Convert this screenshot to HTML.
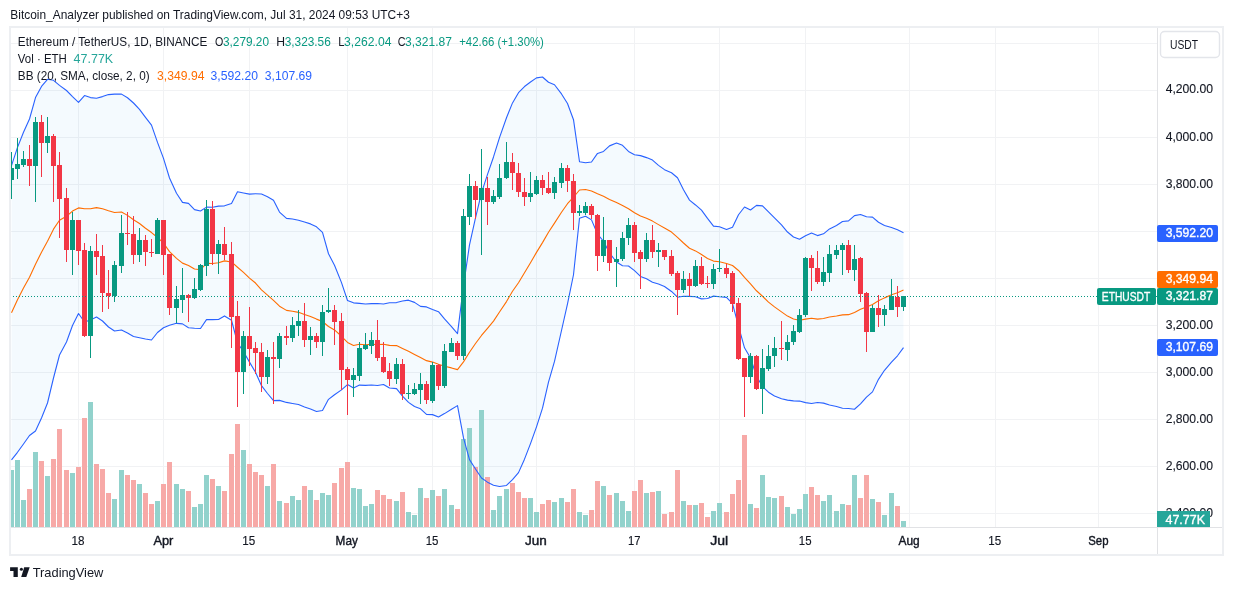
<!DOCTYPE html>
<html><head><meta charset="utf-8"><style>
html,body{margin:0;padding:0;background:#fff;width:1233px;height:590px;overflow:hidden}
body{position:relative;font-family:'Liberation Sans',sans-serif}
</style></head><body>
<svg width="1233" height="590" style="position:absolute;left:0;top:0">
<defs><clipPath id="pane"><rect x="11" y="28" width="1146" height="499"/></clipPath></defs>
<g shape-rendering="crispEdges"><rect x="11" y="43" width="1146" height="1" fill="#f1f2f4"/><rect x="11" y="90" width="1146" height="1" fill="#f1f2f4"/><rect x="11" y="137" width="1146" height="1" fill="#f1f2f4"/><rect x="11" y="184" width="1146" height="1" fill="#f1f2f4"/><rect x="11" y="231" width="1146" height="1" fill="#f1f2f4"/><rect x="11" y="278" width="1146" height="1" fill="#f1f2f4"/><rect x="11" y="325" width="1146" height="1" fill="#f1f2f4"/><rect x="11" y="372" width="1146" height="1" fill="#f1f2f4"/><rect x="11" y="419" width="1146" height="1" fill="#f1f2f4"/><rect x="11" y="466" width="1146" height="1" fill="#f1f2f4"/><rect x="11" y="513" width="1146" height="1" fill="#f1f2f4"/><rect x="78" y="28" width="1" height="499" fill="#f1f2f4"/><rect x="163" y="28" width="1" height="499" fill="#f1f2f4"/><rect x="249" y="28" width="1" height="499" fill="#f1f2f4"/><rect x="347" y="28" width="1" height="499" fill="#f1f2f4"/><rect x="432" y="28" width="1" height="499" fill="#f1f2f4"/><rect x="536" y="28" width="1" height="499" fill="#f1f2f4"/><rect x="634" y="28" width="1" height="499" fill="#f1f2f4"/><rect x="719" y="28" width="1" height="499" fill="#f1f2f4"/><rect x="805" y="28" width="1" height="499" fill="#f1f2f4"/><rect x="909" y="28" width="1" height="499" fill="#f1f2f4"/><rect x="995" y="28" width="1" height="499" fill="#f1f2f4"/><rect x="1098" y="28" width="1" height="499" fill="#f1f2f4"/></g>
<g clip-path="url(#pane)">
<polygon points="11.50,165.70 17.50,147.40 23.50,132.20 29.50,119.00 35.50,97.60 41.50,86.40 47.50,79.30 53.50,80.30 59.50,85.40 66.50,90.50 72.50,96.60 78.50,102.30 84.50,95.60 90.50,97.60 96.50,98.20 102.50,96.60 108.50,94.60 114.50,94.10 121.50,94.10 127.50,97.72 133.50,103.00 139.50,109.38 145.50,117.40 151.50,125.12 157.50,142.38 163.50,158.34 169.50,177.98 176.50,193.29 182.50,202.39 188.50,203.36 194.50,209.66 200.50,210.93 206.50,207.09 212.50,207.30 218.50,206.09 224.50,205.85 231.50,203.60 237.50,191.74 243.50,192.98 249.50,194.09 255.50,193.73 261.50,194.05 267.50,196.68 273.50,200.19 279.50,212.10 286.50,218.39 292.50,219.04 298.50,220.20 304.50,222.08 310.50,223.90 316.50,226.80 322.50,232.45 328.50,253.74 334.50,265.19 341.50,282.63 347.50,300.45 353.50,302.83 359.50,303.37 365.50,304.03 371.50,303.58 377.50,303.56 383.50,304.05 389.50,302.71 396.50,302.58 402.50,300.97 408.50,300.17 414.50,302.37 420.50,306.39 426.50,306.91 432.50,309.57 438.50,311.70 444.50,318.89 451.50,326.61 457.50,333.60 463.50,285.89 469.50,244.85 475.50,217.96 481.50,192.89 487.50,174.40 493.50,156.95 499.50,137.58 506.50,117.70 512.50,102.91 518.50,92.73 524.50,86.51 530.50,82.02 536.50,77.91 542.50,77.04 548.50,82.25 554.50,84.72 561.50,93.93 567.50,103.46 573.50,119.70 579.50,161.73 585.50,162.79 591.50,162.04 597.50,153.43 603.50,151.40 609.50,145.88 616.50,143.08 622.50,145.32 628.50,151.44 634.50,154.79 640.50,155.61 646.50,157.61 652.50,160.04 658.50,165.35 664.50,169.63 671.50,172.74 677.50,177.72 683.50,189.82 689.50,200.12 695.50,204.96 701.50,210.19 707.50,218.39 713.50,226.09 719.50,226.68 726.50,229.49 732.50,227.26 738.50,214.77 744.50,207.01 750.50,209.98 756.50,205.33 762.50,205.88 768.50,211.94 774.50,217.77 781.50,224.84 787.50,232.04 793.50,236.96 799.50,239.31 805.50,235.67 811.50,233.03 817.50,235.60 823.50,233.84 829.50,228.90 836.50,225.55 842.50,221.49 848.50,220.88 854.50,215.61 860.50,214.46 866.50,216.71 872.50,217.14 878.50,222.25 884.50,225.41 891.50,227.55 897.50,229.77 903.50,232.64 903.50,347.59 897.50,355.78 891.50,362.15 884.50,370.32 878.50,379.35 872.50,391.87 866.50,397.13 860.50,403.87 854.50,409.25 848.50,408.46 842.50,408.28 836.50,406.51 829.50,405.04 823.50,403.13 817.50,402.57 811.50,403.49 805.50,402.63 799.50,401.08 793.50,400.87 787.50,400.12 781.50,398.83 774.50,396.02 768.50,392.17 762.50,386.59 756.50,376.21 750.50,357.94 744.50,347.82 738.50,326.16 732.50,303.69 726.50,297.39 719.50,296.81 713.50,296.13 707.50,298.49 701.50,298.86 695.50,296.82 689.50,296.42 683.50,296.20 677.50,297.21 671.50,291.43 664.50,286.45 658.50,283.92 652.50,282.18 646.50,278.76 640.50,276.42 634.50,270.61 628.50,266.00 622.50,265.79 616.50,262.03 609.50,252.92 603.50,241.27 597.50,234.04 591.50,219.87 585.50,216.18 579.50,218.26 573.50,274.75 567.50,303.97 561.50,330.50 554.50,361.47 548.50,382.21 542.50,408.16 536.50,426.83 530.50,443.62 524.50,459.16 518.50,472.64 512.50,479.66 506.50,485.43 499.50,486.57 493.50,485.22 487.50,482.16 481.50,478.03 475.50,468.99 469.50,459.62 463.50,437.93 457.50,405.63 451.50,409.20 444.50,413.60 438.50,416.91 432.50,414.63 426.50,414.39 420.50,408.83 414.50,406.56 408.50,402.34 402.50,396.04 396.50,388.65 389.50,388.03 383.50,384.50 377.50,385.49 371.50,384.95 365.50,385.40 359.50,385.11 353.50,388.01 347.50,384.54 341.50,389.89 334.50,394.71 328.50,399.34 322.50,410.49 316.50,411.43 310.50,409.09 304.50,407.08 298.50,404.48 292.50,403.47 286.50,402.41 279.50,400.35 273.50,400.65 267.50,393.52 261.50,385.69 255.50,372.31 249.50,362.15 243.50,351.81 237.50,342.79 231.50,320.24 224.50,315.92 218.50,319.54 212.50,319.60 206.50,319.57 200.50,328.45 194.50,328.29 188.50,327.69 182.50,323.86 176.50,323.34 169.50,325.30 163.50,327.77 157.50,332.52 151.50,340.01 145.50,339.01 139.50,337.70 133.50,336.48 127.50,333.06 121.50,330.00 114.50,331.00 108.50,327.00 102.50,321.00 96.50,317.00 90.50,320.00 84.50,322.00 78.50,313.50 72.50,325.50 66.50,342.00 59.50,355.00 53.50,378.00 47.50,403.00 41.50,418.00 35.50,431.00 29.50,435.50 23.50,444.00 17.50,452.30 11.50,459.90" fill="#2196f3" fill-opacity="0.05"/>
<g shape-rendering="crispEdges"><rect x="9" y="470" width="5" height="57" fill="#92d2cc"/><rect x="15" y="460" width="5" height="67" fill="#92d2cc"/><rect x="21" y="500" width="5" height="27" fill="#92d2cc"/><rect x="27" y="489" width="5" height="38" fill="#f7a9a7"/><rect x="33" y="452" width="5" height="75" fill="#92d2cc"/><rect x="39" y="461" width="5" height="66" fill="#f7a9a7"/><rect x="45" y="476" width="5" height="51" fill="#92d2cc"/><rect x="51" y="459" width="5" height="68" fill="#f7a9a7"/><rect x="57" y="429" width="5" height="98" fill="#f7a9a7"/><rect x="64" y="470" width="5" height="57" fill="#f7a9a7"/><rect x="70" y="473" width="5" height="54" fill="#92d2cc"/><rect x="76" y="467" width="5" height="60" fill="#f7a9a7"/><rect x="82" y="418" width="5" height="109" fill="#f7a9a7"/><rect x="88" y="402" width="5" height="125" fill="#92d2cc"/><rect x="94" y="464" width="5" height="63" fill="#f7a9a7"/><rect x="100" y="469" width="5" height="58" fill="#f7a9a7"/><rect x="106" y="493" width="5" height="34" fill="#f7a9a7"/><rect x="112" y="499" width="5" height="28" fill="#92d2cc"/><rect x="119" y="470" width="5" height="57" fill="#92d2cc"/><rect x="125" y="475" width="5" height="52" fill="#f7a9a7"/><rect x="131" y="480" width="5" height="47" fill="#f7a9a7"/><rect x="137" y="484" width="5" height="43" fill="#92d2cc"/><rect x="143" y="493" width="5" height="34" fill="#f7a9a7"/><rect x="149" y="504" width="5" height="23" fill="#f7a9a7"/><rect x="155" y="501" width="5" height="26" fill="#92d2cc"/><rect x="161" y="484" width="5" height="43" fill="#f7a9a7"/><rect x="167" y="462" width="5" height="65" fill="#f7a9a7"/><rect x="174" y="484" width="5" height="43" fill="#92d2cc"/><rect x="180" y="489" width="5" height="38" fill="#92d2cc"/><rect x="186" y="491" width="5" height="36" fill="#f7a9a7"/><rect x="192" y="507" width="5" height="20" fill="#92d2cc"/><rect x="198" y="504" width="5" height="23" fill="#92d2cc"/><rect x="204" y="475" width="5" height="52" fill="#92d2cc"/><rect x="210" y="479" width="5" height="48" fill="#f7a9a7"/><rect x="216" y="486" width="5" height="41" fill="#92d2cc"/><rect x="222" y="491" width="5" height="36" fill="#f7a9a7"/><rect x="229" y="454" width="5" height="73" fill="#f7a9a7"/><rect x="235" y="424" width="5" height="103" fill="#f7a9a7"/><rect x="241" y="450" width="5" height="77" fill="#92d2cc"/><rect x="247" y="464" width="5" height="63" fill="#f7a9a7"/><rect x="253" y="472" width="5" height="55" fill="#f7a9a7"/><rect x="259" y="475" width="5" height="52" fill="#f7a9a7"/><rect x="265" y="486" width="5" height="41" fill="#92d2cc"/><rect x="271" y="464" width="5" height="63" fill="#f7a9a7"/><rect x="277" y="501" width="5" height="26" fill="#92d2cc"/><rect x="284" y="503" width="5" height="24" fill="#f7a9a7"/><rect x="290" y="496" width="5" height="31" fill="#92d2cc"/><rect x="296" y="500" width="5" height="27" fill="#92d2cc"/><rect x="302" y="486" width="5" height="41" fill="#f7a9a7"/><rect x="308" y="490" width="5" height="37" fill="#92d2cc"/><rect x="314" y="500" width="5" height="27" fill="#f7a9a7"/><rect x="320" y="493" width="5" height="34" fill="#92d2cc"/><rect x="326" y="495" width="5" height="32" fill="#92d2cc"/><rect x="332" y="483" width="5" height="44" fill="#f7a9a7"/><rect x="339" y="468" width="5" height="59" fill="#f7a9a7"/><rect x="345" y="462" width="5" height="65" fill="#f7a9a7"/><rect x="351" y="488" width="5" height="39" fill="#92d2cc"/><rect x="357" y="489" width="5" height="38" fill="#92d2cc"/><rect x="363" y="506" width="5" height="21" fill="#92d2cc"/><rect x="369" y="504" width="5" height="23" fill="#92d2cc"/><rect x="375" y="490" width="5" height="37" fill="#f7a9a7"/><rect x="381" y="495" width="5" height="32" fill="#f7a9a7"/><rect x="387" y="499" width="5" height="28" fill="#f7a9a7"/><rect x="394" y="501" width="5" height="26" fill="#92d2cc"/><rect x="400" y="492" width="5" height="35" fill="#f7a9a7"/><rect x="406" y="512" width="5" height="15" fill="#92d2cc"/><rect x="412" y="515" width="5" height="12" fill="#92d2cc"/><rect x="418" y="488" width="5" height="39" fill="#92d2cc"/><rect x="424" y="498" width="5" height="29" fill="#f7a9a7"/><rect x="430" y="490" width="5" height="37" fill="#92d2cc"/><rect x="436" y="496" width="5" height="31" fill="#f7a9a7"/><rect x="442" y="489" width="5" height="38" fill="#92d2cc"/><rect x="449" y="505" width="5" height="22" fill="#92d2cc"/><rect x="455" y="509" width="5" height="18" fill="#f7a9a7"/><rect x="461" y="439" width="5" height="88" fill="#92d2cc"/><rect x="467" y="428" width="5" height="99" fill="#92d2cc"/><rect x="473" y="467" width="5" height="60" fill="#f7a9a7"/><rect x="479" y="410" width="5" height="117" fill="#92d2cc"/><rect x="485" y="477" width="5" height="50" fill="#f7a9a7"/><rect x="491" y="510" width="5" height="17" fill="#92d2cc"/><rect x="497" y="496" width="5" height="31" fill="#92d2cc"/><rect x="504" y="489" width="5" height="38" fill="#92d2cc"/><rect x="510" y="483" width="5" height="44" fill="#f7a9a7"/><rect x="516" y="492" width="5" height="35" fill="#f7a9a7"/><rect x="522" y="498" width="5" height="29" fill="#f7a9a7"/><rect x="528" y="498" width="5" height="29" fill="#92d2cc"/><rect x="534" y="512" width="5" height="15" fill="#92d2cc"/><rect x="540" y="504" width="5" height="23" fill="#f7a9a7"/><rect x="546" y="500" width="5" height="27" fill="#f7a9a7"/><rect x="552" y="502" width="5" height="25" fill="#92d2cc"/><rect x="559" y="498" width="5" height="29" fill="#92d2cc"/><rect x="565" y="502" width="5" height="25" fill="#f7a9a7"/><rect x="571" y="489" width="5" height="38" fill="#f7a9a7"/><rect x="577" y="512" width="5" height="15" fill="#92d2cc"/><rect x="583" y="515" width="5" height="12" fill="#92d2cc"/><rect x="589" y="510" width="5" height="17" fill="#f7a9a7"/><rect x="595" y="481" width="5" height="46" fill="#f7a9a7"/><rect x="601" y="486" width="5" height="41" fill="#92d2cc"/><rect x="607" y="495" width="5" height="32" fill="#f7a9a7"/><rect x="614" y="493" width="5" height="34" fill="#92d2cc"/><rect x="620" y="501" width="5" height="26" fill="#92d2cc"/><rect x="626" y="511" width="5" height="16" fill="#92d2cc"/><rect x="632" y="491" width="5" height="36" fill="#f7a9a7"/><rect x="638" y="480" width="5" height="47" fill="#f7a9a7"/><rect x="644" y="493" width="5" height="34" fill="#92d2cc"/><rect x="650" y="492" width="5" height="35" fill="#f7a9a7"/><rect x="656" y="491" width="5" height="36" fill="#92d2cc"/><rect x="662" y="514" width="5" height="13" fill="#f7a9a7"/><rect x="669" y="512" width="5" height="15" fill="#f7a9a7"/><rect x="675" y="470" width="5" height="57" fill="#f7a9a7"/><rect x="681" y="501" width="5" height="26" fill="#92d2cc"/><rect x="687" y="505" width="5" height="22" fill="#f7a9a7"/><rect x="693" y="505" width="5" height="22" fill="#92d2cc"/><rect x="699" y="503" width="5" height="24" fill="#f7a9a7"/><rect x="705" y="517" width="5" height="10" fill="#f7a9a7"/><rect x="711" y="511" width="5" height="16" fill="#92d2cc"/><rect x="717" y="503" width="5" height="24" fill="#92d2cc"/><rect x="724" y="512" width="5" height="15" fill="#f7a9a7"/><rect x="730" y="494" width="5" height="33" fill="#f7a9a7"/><rect x="736" y="480" width="5" height="47" fill="#f7a9a7"/><rect x="742" y="435" width="5" height="92" fill="#f7a9a7"/><rect x="748" y="504" width="5" height="23" fill="#92d2cc"/><rect x="754" y="508" width="5" height="19" fill="#f7a9a7"/><rect x="760" y="475" width="5" height="52" fill="#92d2cc"/><rect x="766" y="497" width="5" height="30" fill="#92d2cc"/><rect x="772" y="498" width="5" height="29" fill="#92d2cc"/><rect x="779" y="496" width="5" height="31" fill="#f7a9a7"/><rect x="785" y="507" width="5" height="20" fill="#92d2cc"/><rect x="791" y="514" width="5" height="13" fill="#92d2cc"/><rect x="797" y="509" width="5" height="18" fill="#92d2cc"/><rect x="803" y="494" width="5" height="33" fill="#92d2cc"/><rect x="809" y="487" width="5" height="40" fill="#f7a9a7"/><rect x="815" y="495" width="5" height="32" fill="#f7a9a7"/><rect x="821" y="501" width="5" height="26" fill="#92d2cc"/><rect x="827" y="495" width="5" height="32" fill="#92d2cc"/><rect x="834" y="511" width="5" height="16" fill="#92d2cc"/><rect x="840" y="504" width="5" height="23" fill="#92d2cc"/><rect x="846" y="505" width="5" height="22" fill="#f7a9a7"/><rect x="852" y="475" width="5" height="52" fill="#92d2cc"/><rect x="858" y="498" width="5" height="29" fill="#f7a9a7"/><rect x="864" y="475" width="5" height="52" fill="#f7a9a7"/><rect x="870" y="499" width="5" height="28" fill="#92d2cc"/><rect x="876" y="502" width="5" height="25" fill="#f7a9a7"/><rect x="882" y="515" width="5" height="12" fill="#92d2cc"/><rect x="889" y="493" width="5" height="34" fill="#92d2cc"/><rect x="895" y="506" width="5" height="21" fill="#f7a9a7"/><rect x="901" y="521" width="5" height="6" fill="#92d2cc"/></g>
<polyline points="11.50,165.70 17.50,147.40 23.50,132.20 29.50,119.00 35.50,97.60 41.50,86.40 47.50,79.30 53.50,80.30 59.50,85.40 66.50,90.50 72.50,96.60 78.50,102.30 84.50,95.60 90.50,97.60 96.50,98.20 102.50,96.60 108.50,94.60 114.50,94.10 121.50,94.10 127.50,97.72 133.50,103.00 139.50,109.38 145.50,117.40 151.50,125.12 157.50,142.38 163.50,158.34 169.50,177.98 176.50,193.29 182.50,202.39 188.50,203.36 194.50,209.66 200.50,210.93 206.50,207.09 212.50,207.30 218.50,206.09 224.50,205.85 231.50,203.60 237.50,191.74 243.50,192.98 249.50,194.09 255.50,193.73 261.50,194.05 267.50,196.68 273.50,200.19 279.50,212.10 286.50,218.39 292.50,219.04 298.50,220.20 304.50,222.08 310.50,223.90 316.50,226.80 322.50,232.45 328.50,253.74 334.50,265.19 341.50,282.63 347.50,300.45 353.50,302.83 359.50,303.37 365.50,304.03 371.50,303.58 377.50,303.56 383.50,304.05 389.50,302.71 396.50,302.58 402.50,300.97 408.50,300.17 414.50,302.37 420.50,306.39 426.50,306.91 432.50,309.57 438.50,311.70 444.50,318.89 451.50,326.61 457.50,333.60 463.50,285.89 469.50,244.85 475.50,217.96 481.50,192.89 487.50,174.40 493.50,156.95 499.50,137.58 506.50,117.70 512.50,102.91 518.50,92.73 524.50,86.51 530.50,82.02 536.50,77.91 542.50,77.04 548.50,82.25 554.50,84.72 561.50,93.93 567.50,103.46 573.50,119.70 579.50,161.73 585.50,162.79 591.50,162.04 597.50,153.43 603.50,151.40 609.50,145.88 616.50,143.08 622.50,145.32 628.50,151.44 634.50,154.79 640.50,155.61 646.50,157.61 652.50,160.04 658.50,165.35 664.50,169.63 671.50,172.74 677.50,177.72 683.50,189.82 689.50,200.12 695.50,204.96 701.50,210.19 707.50,218.39 713.50,226.09 719.50,226.68 726.50,229.49 732.50,227.26 738.50,214.77 744.50,207.01 750.50,209.98 756.50,205.33 762.50,205.88 768.50,211.94 774.50,217.77 781.50,224.84 787.50,232.04 793.50,236.96 799.50,239.31 805.50,235.67 811.50,233.03 817.50,235.60 823.50,233.84 829.50,228.90 836.50,225.55 842.50,221.49 848.50,220.88 854.50,215.61 860.50,214.46 866.50,216.71 872.50,217.14 878.50,222.25 884.50,225.41 891.50,227.55 897.50,229.77 903.50,232.64" fill="none" stroke="#2962FF" stroke-width="1.1" stroke-linejoin="round"/><polyline points="11.50,459.90 17.50,452.30 23.50,444.00 29.50,435.50 35.50,431.00 41.50,418.00 47.50,403.00 53.50,378.00 59.50,355.00 66.50,342.00 72.50,325.50 78.50,313.50 84.50,322.00 90.50,320.00 96.50,317.00 102.50,321.00 108.50,327.00 114.50,331.00 121.50,330.00 127.50,333.06 133.50,336.48 139.50,337.70 145.50,339.01 151.50,340.01 157.50,332.52 163.50,327.77 169.50,325.30 176.50,323.34 182.50,323.86 188.50,327.69 194.50,328.29 200.50,328.45 206.50,319.57 212.50,319.60 218.50,319.54 224.50,315.92 231.50,320.24 237.50,342.79 243.50,351.81 249.50,362.15 255.50,372.31 261.50,385.69 267.50,393.52 273.50,400.65 279.50,400.35 286.50,402.41 292.50,403.47 298.50,404.48 304.50,407.08 310.50,409.09 316.50,411.43 322.50,410.49 328.50,399.34 334.50,394.71 341.50,389.89 347.50,384.54 353.50,388.01 359.50,385.11 365.50,385.40 371.50,384.95 377.50,385.49 383.50,384.50 389.50,388.03 396.50,388.65 402.50,396.04 408.50,402.34 414.50,406.56 420.50,408.83 426.50,414.39 432.50,414.63 438.50,416.91 444.50,413.60 451.50,409.20 457.50,405.63 463.50,437.93 469.50,459.62 475.50,468.99 481.50,478.03 487.50,482.16 493.50,485.22 499.50,486.57 506.50,485.43 512.50,479.66 518.50,472.64 524.50,459.16 530.50,443.62 536.50,426.83 542.50,408.16 548.50,382.21 554.50,361.47 561.50,330.50 567.50,303.97 573.50,274.75 579.50,218.26 585.50,216.18 591.50,219.87 597.50,234.04 603.50,241.27 609.50,252.92 616.50,262.03 622.50,265.79 628.50,266.00 634.50,270.61 640.50,276.42 646.50,278.76 652.50,282.18 658.50,283.92 664.50,286.45 671.50,291.43 677.50,297.21 683.50,296.20 689.50,296.42 695.50,296.82 701.50,298.86 707.50,298.49 713.50,296.13 719.50,296.81 726.50,297.39 732.50,303.69 738.50,326.16 744.50,347.82 750.50,357.94 756.50,376.21 762.50,386.59 768.50,392.17 774.50,396.02 781.50,398.83 787.50,400.12 793.50,400.87 799.50,401.08 805.50,402.63 811.50,403.49 817.50,402.57 823.50,403.13 829.50,405.04 836.50,406.51 842.50,408.28 848.50,408.46 854.50,409.25 860.50,403.87 866.50,397.13 872.50,391.87 878.50,379.35 884.50,370.32 891.50,362.15 897.50,355.78 903.50,347.59" fill="none" stroke="#2962FF" stroke-width="1.1" stroke-linejoin="round"/><polyline points="11.50,312.80 17.50,299.85 23.50,288.10 29.50,277.25 35.50,264.30 41.50,252.20 47.50,241.15 53.50,229.15 59.50,220.20 66.50,216.25 72.50,211.05 78.50,207.90 84.50,208.80 90.50,208.80 96.50,207.60 102.50,208.80 108.50,210.80 114.50,212.55 121.50,212.05 127.50,215.39 133.50,219.74 139.50,223.54 145.50,228.20 151.50,232.56 157.50,237.45 163.50,243.06 169.50,251.64 176.50,258.32 182.50,263.13 188.50,265.53 194.50,268.98 200.50,269.69 206.50,263.33 212.50,263.45 218.50,262.82 224.50,260.88 231.50,261.92 237.50,267.26 243.50,272.40 249.50,278.12 255.50,283.02 261.50,289.87 267.50,295.10 273.50,300.42 279.50,306.22 286.50,310.40 292.50,311.25 298.50,312.34 304.50,314.58 310.50,316.50 316.50,319.12 322.50,321.47 328.50,326.54 334.50,329.95 341.50,336.26 347.50,342.49 353.50,345.42 359.50,344.24 365.50,344.72 371.50,344.27 377.50,344.53 383.50,344.27 389.50,345.37 396.50,345.62 402.50,348.51 408.50,351.25 414.50,354.46 420.50,357.61 426.50,360.65 432.50,362.10 438.50,364.31 444.50,366.25 451.50,367.91 457.50,369.61 463.50,361.91 469.50,352.23 475.50,343.48 481.50,335.46 487.50,328.28 493.50,321.08 499.50,312.07 506.50,301.57 512.50,291.28 518.50,282.69 524.50,272.83 530.50,262.82 536.50,252.37 542.50,242.60 548.50,232.23 554.50,223.10 561.50,212.21 567.50,203.72 573.50,197.23 579.50,190.00 585.50,189.49 591.50,190.96 597.50,193.73 603.50,196.33 609.50,199.40 616.50,202.55 622.50,205.55 628.50,208.72 634.50,212.70 640.50,216.01 646.50,218.18 652.50,221.11 658.50,224.63 664.50,228.04 671.50,232.08 677.50,237.46 683.50,243.01 689.50,248.27 695.50,250.89 701.50,254.53 707.50,258.44 713.50,261.11 719.50,261.74 726.50,263.44 732.50,265.47 738.50,270.47 744.50,277.41 750.50,283.96 756.50,290.77 762.50,296.24 768.50,302.06 774.50,306.89 781.50,311.84 787.50,316.08 793.50,318.92 799.50,320.20 805.50,319.15 811.50,318.26 817.50,319.09 823.50,318.49 829.50,316.97 836.50,316.03 842.50,314.88 848.50,314.67 854.50,312.43 860.50,309.17 866.50,306.92 872.50,304.51 878.50,300.80 884.50,297.87 891.50,294.85 897.50,292.78 903.50,290.11" fill="none" stroke="#FF6D00" stroke-width="1.1" stroke-linejoin="round"/>
<g shape-rendering="crispEdges"><rect x="11" y="152" width="1" height="47" fill="#089981"/><rect x="9" y="168" width="5" height="12" fill="#089981"/><rect x="17" y="138" width="1" height="41" fill="#089981"/><rect x="15" y="164" width="5" height="5" fill="#089981"/><rect x="23" y="151" width="1" height="16" fill="#089981"/><rect x="21" y="159" width="5" height="6" fill="#089981"/><rect x="29" y="145" width="1" height="41" fill="#F23645"/><rect x="27" y="159" width="5" height="7" fill="#F23645"/><rect x="35" y="117" width="1" height="85" fill="#089981"/><rect x="33" y="122" width="5" height="44" fill="#089981"/><rect x="41" y="115" width="1" height="62" fill="#F23645"/><rect x="39" y="122" width="5" height="21" fill="#F23645"/><rect x="47" y="117" width="1" height="36" fill="#089981"/><rect x="45" y="136" width="5" height="7" fill="#089981"/><rect x="53" y="134" width="1" height="68" fill="#F23645"/><rect x="51" y="136" width="5" height="30" fill="#F23645"/><rect x="59" y="152" width="1" height="86" fill="#F23645"/><rect x="57" y="165" width="5" height="34" fill="#F23645"/><rect x="66" y="188" width="1" height="74" fill="#F23645"/><rect x="64" y="198" width="5" height="52" fill="#F23645"/><rect x="72" y="212" width="1" height="63" fill="#089981"/><rect x="70" y="220" width="5" height="30" fill="#089981"/><rect x="78" y="220" width="1" height="45" fill="#F23645"/><rect x="76" y="220" width="5" height="31" fill="#F23645"/><rect x="84" y="243" width="1" height="94" fill="#F23645"/><rect x="82" y="250" width="5" height="86" fill="#F23645"/><rect x="90" y="246" width="1" height="112" fill="#089981"/><rect x="88" y="251" width="5" height="85" fill="#089981"/><rect x="96" y="234" width="1" height="41" fill="#F23645"/><rect x="94" y="251" width="5" height="6" fill="#F23645"/><rect x="102" y="245" width="1" height="67" fill="#F23645"/><rect x="100" y="256" width="5" height="37" fill="#F23645"/><rect x="108" y="270" width="1" height="39" fill="#F23645"/><rect x="106" y="293" width="5" height="3" fill="#F23645"/><rect x="114" y="261" width="1" height="41" fill="#089981"/><rect x="112" y="265" width="5" height="31" fill="#089981"/><rect x="121" y="215" width="1" height="58" fill="#089981"/><rect x="119" y="233" width="5" height="33" fill="#089981"/><rect x="127" y="212" width="1" height="33" fill="#F23645"/><rect x="125" y="233" width="5" height="1" fill="#F23645"/><rect x="133" y="216" width="1" height="48" fill="#F23645"/><rect x="131" y="234" width="5" height="21" fill="#F23645"/><rect x="139" y="228" width="1" height="34" fill="#089981"/><rect x="137" y="240" width="5" height="15" fill="#089981"/><rect x="145" y="235" width="1" height="31" fill="#F23645"/><rect x="143" y="240" width="5" height="12" fill="#F23645"/><rect x="151" y="239" width="1" height="18" fill="#F23645"/><rect x="149" y="252" width="5" height="1" fill="#F23645"/><rect x="157" y="218" width="1" height="36" fill="#089981"/><rect x="155" y="220" width="5" height="34" fill="#089981"/><rect x="163" y="220" width="1" height="55" fill="#F23645"/><rect x="161" y="220" width="5" height="35" fill="#F23645"/><rect x="169" y="254" width="1" height="61" fill="#F23645"/><rect x="167" y="254" width="5" height="54" fill="#F23645"/><rect x="176" y="286" width="1" height="37" fill="#089981"/><rect x="174" y="299" width="5" height="9" fill="#089981"/><rect x="182" y="268" width="1" height="45" fill="#089981"/><rect x="180" y="295" width="5" height="5" fill="#089981"/><rect x="188" y="294" width="1" height="28" fill="#F23645"/><rect x="186" y="295" width="5" height="3" fill="#F23645"/><rect x="194" y="278" width="1" height="21" fill="#089981"/><rect x="192" y="289" width="5" height="9" fill="#089981"/><rect x="200" y="264" width="1" height="27" fill="#089981"/><rect x="198" y="265" width="5" height="25" fill="#089981"/><rect x="206" y="200" width="1" height="76" fill="#089981"/><rect x="204" y="209" width="5" height="57" fill="#089981"/><rect x="212" y="201" width="1" height="64" fill="#F23645"/><rect x="210" y="209" width="5" height="45" fill="#F23645"/><rect x="218" y="240" width="1" height="34" fill="#089981"/><rect x="216" y="244" width="5" height="10" fill="#089981"/><rect x="224" y="227" width="1" height="33" fill="#F23645"/><rect x="222" y="244" width="5" height="11" fill="#F23645"/><rect x="231" y="242" width="1" height="106" fill="#F23645"/><rect x="229" y="254" width="5" height="63" fill="#F23645"/><rect x="237" y="301" width="1" height="106" fill="#F23645"/><rect x="235" y="316" width="5" height="56" fill="#F23645"/><rect x="243" y="331" width="1" height="63" fill="#089981"/><rect x="241" y="336" width="5" height="36" fill="#089981"/><rect x="249" y="307" width="1" height="59" fill="#F23645"/><rect x="247" y="336" width="5" height="13" fill="#F23645"/><rect x="255" y="342" width="1" height="32" fill="#F23645"/><rect x="253" y="348" width="5" height="5" fill="#F23645"/><rect x="261" y="343" width="1" height="49" fill="#F23645"/><rect x="259" y="352" width="5" height="25" fill="#F23645"/><rect x="267" y="350" width="1" height="34" fill="#089981"/><rect x="265" y="357" width="5" height="20" fill="#089981"/><rect x="273" y="342" width="1" height="62" fill="#F23645"/><rect x="271" y="357" width="5" height="2" fill="#F23645"/><rect x="279" y="333" width="1" height="35" fill="#089981"/><rect x="277" y="336" width="5" height="23" fill="#089981"/><rect x="286" y="326" width="1" height="19" fill="#F23645"/><rect x="284" y="336" width="5" height="2" fill="#F23645"/><rect x="292" y="317" width="1" height="25" fill="#089981"/><rect x="290" y="325" width="5" height="13" fill="#089981"/><rect x="298" y="310" width="1" height="26" fill="#089981"/><rect x="296" y="321" width="5" height="5" fill="#089981"/><rect x="304" y="303" width="1" height="44" fill="#F23645"/><rect x="302" y="321" width="5" height="19" fill="#F23645"/><rect x="310" y="327" width="1" height="28" fill="#089981"/><rect x="308" y="336" width="5" height="4" fill="#089981"/><rect x="316" y="333" width="1" height="15" fill="#F23645"/><rect x="314" y="336" width="5" height="6" fill="#F23645"/><rect x="322" y="305" width="1" height="51" fill="#089981"/><rect x="320" y="312" width="5" height="30" fill="#089981"/><rect x="328" y="288" width="1" height="25" fill="#089981"/><rect x="326" y="310" width="5" height="2" fill="#089981"/><rect x="334" y="305" width="1" height="40" fill="#F23645"/><rect x="332" y="310" width="5" height="12" fill="#F23645"/><rect x="341" y="313" width="1" height="77" fill="#F23645"/><rect x="339" y="321" width="5" height="49" fill="#F23645"/><rect x="347" y="367" width="1" height="48" fill="#F23645"/><rect x="345" y="369" width="5" height="11" fill="#F23645"/><rect x="353" y="368" width="1" height="29" fill="#089981"/><rect x="351" y="375" width="5" height="5" fill="#089981"/><rect x="359" y="342" width="1" height="39" fill="#089981"/><rect x="357" y="348" width="5" height="28" fill="#089981"/><rect x="365" y="333" width="1" height="17" fill="#089981"/><rect x="363" y="345" width="5" height="4" fill="#089981"/><rect x="371" y="332" width="1" height="22" fill="#089981"/><rect x="369" y="340" width="5" height="6" fill="#089981"/><rect x="377" y="320" width="1" height="41" fill="#F23645"/><rect x="375" y="340" width="5" height="18" fill="#F23645"/><rect x="383" y="342" width="1" height="31" fill="#F23645"/><rect x="381" y="357" width="5" height="15" fill="#F23645"/><rect x="389" y="363" width="1" height="23" fill="#F23645"/><rect x="387" y="371" width="5" height="8" fill="#F23645"/><rect x="396" y="358" width="1" height="26" fill="#089981"/><rect x="394" y="364" width="5" height="15" fill="#089981"/><rect x="402" y="359" width="1" height="41" fill="#F23645"/><rect x="400" y="364" width="5" height="30" fill="#F23645"/><rect x="408" y="385" width="1" height="14" fill="#089981"/><rect x="406" y="393" width="5" height="1" fill="#089981"/><rect x="414" y="383" width="1" height="12" fill="#089981"/><rect x="412" y="389" width="5" height="5" fill="#089981"/><rect x="420" y="373" width="1" height="31" fill="#089981"/><rect x="418" y="384" width="5" height="6" fill="#089981"/><rect x="426" y="381" width="1" height="23" fill="#F23645"/><rect x="424" y="384" width="5" height="16" fill="#F23645"/><rect x="432" y="362" width="1" height="41" fill="#089981"/><rect x="430" y="365" width="5" height="36" fill="#089981"/><rect x="438" y="364" width="1" height="26" fill="#F23645"/><rect x="436" y="365" width="5" height="21" fill="#F23645"/><rect x="444" y="344" width="1" height="44" fill="#089981"/><rect x="442" y="351" width="5" height="35" fill="#089981"/><rect x="451" y="338" width="1" height="14" fill="#089981"/><rect x="449" y="343" width="5" height="9" fill="#089981"/><rect x="457" y="341" width="1" height="19" fill="#F23645"/><rect x="455" y="343" width="5" height="13" fill="#F23645"/><rect x="463" y="209" width="1" height="151" fill="#089981"/><rect x="461" y="216" width="5" height="140" fill="#089981"/><rect x="469" y="174" width="1" height="51" fill="#089981"/><rect x="467" y="186" width="5" height="31" fill="#089981"/><rect x="475" y="181" width="1" height="38" fill="#F23645"/><rect x="473" y="186" width="5" height="14" fill="#F23645"/><rect x="481" y="149" width="1" height="106" fill="#089981"/><rect x="479" y="188" width="5" height="12" fill="#089981"/><rect x="487" y="177" width="1" height="48" fill="#F23645"/><rect x="485" y="188" width="5" height="14" fill="#F23645"/><rect x="493" y="190" width="1" height="14" fill="#089981"/><rect x="491" y="196" width="5" height="6" fill="#089981"/><rect x="499" y="164" width="1" height="35" fill="#089981"/><rect x="497" y="178" width="5" height="19" fill="#089981"/><rect x="506" y="142" width="1" height="37" fill="#089981"/><rect x="504" y="162" width="5" height="16" fill="#089981"/><rect x="512" y="153" width="1" height="37" fill="#F23645"/><rect x="510" y="162" width="5" height="11" fill="#F23645"/><rect x="518" y="163" width="1" height="34" fill="#F23645"/><rect x="516" y="173" width="5" height="19" fill="#F23645"/><rect x="524" y="178" width="1" height="28" fill="#F23645"/><rect x="522" y="192" width="5" height="5" fill="#F23645"/><rect x="530" y="172" width="1" height="30" fill="#089981"/><rect x="528" y="193" width="5" height="4" fill="#089981"/><rect x="536" y="176" width="1" height="19" fill="#089981"/><rect x="534" y="180" width="5" height="14" fill="#089981"/><rect x="542" y="175" width="1" height="20" fill="#F23645"/><rect x="540" y="180" width="5" height="8" fill="#F23645"/><rect x="548" y="172" width="1" height="22" fill="#F23645"/><rect x="546" y="188" width="5" height="5" fill="#F23645"/><rect x="554" y="177" width="1" height="22" fill="#089981"/><rect x="552" y="182" width="5" height="11" fill="#089981"/><rect x="561" y="163" width="1" height="25" fill="#089981"/><rect x="559" y="168" width="5" height="15" fill="#089981"/><rect x="567" y="165" width="1" height="27" fill="#F23645"/><rect x="565" y="168" width="5" height="13" fill="#F23645"/><rect x="573" y="174" width="1" height="56" fill="#F23645"/><rect x="571" y="181" width="5" height="32" fill="#F23645"/><rect x="579" y="205" width="1" height="11" fill="#089981"/><rect x="577" y="211" width="5" height="2" fill="#089981"/><rect x="585" y="202" width="1" height="13" fill="#089981"/><rect x="583" y="206" width="5" height="7" fill="#089981"/><rect x="591" y="204" width="1" height="15" fill="#F23645"/><rect x="589" y="206" width="5" height="9" fill="#F23645"/><rect x="597" y="214" width="1" height="57" fill="#F23645"/><rect x="595" y="215" width="5" height="41" fill="#F23645"/><rect x="603" y="217" width="1" height="45" fill="#089981"/><rect x="601" y="240" width="5" height="16" fill="#089981"/><rect x="609" y="240" width="1" height="31" fill="#F23645"/><rect x="607" y="240" width="5" height="23" fill="#F23645"/><rect x="616" y="247" width="1" height="40" fill="#089981"/><rect x="614" y="259" width="5" height="3" fill="#089981"/><rect x="622" y="232" width="1" height="29" fill="#089981"/><rect x="620" y="238" width="5" height="21" fill="#089981"/><rect x="628" y="218" width="1" height="27" fill="#089981"/><rect x="626" y="225" width="5" height="13" fill="#089981"/><rect x="634" y="222" width="1" height="40" fill="#F23645"/><rect x="632" y="225" width="5" height="28" fill="#F23645"/><rect x="640" y="250" width="1" height="39" fill="#F23645"/><rect x="638" y="252" width="5" height="7" fill="#F23645"/><rect x="646" y="233" width="1" height="29" fill="#089981"/><rect x="644" y="240" width="5" height="19" fill="#089981"/><rect x="652" y="225" width="1" height="33" fill="#F23645"/><rect x="650" y="240" width="5" height="12" fill="#F23645"/><rect x="658" y="243" width="1" height="24" fill="#089981"/><rect x="656" y="250" width="5" height="2" fill="#089981"/><rect x="664" y="250" width="1" height="10" fill="#F23645"/><rect x="662" y="250" width="5" height="7" fill="#F23645"/><rect x="671" y="250" width="1" height="26" fill="#F23645"/><rect x="669" y="256" width="5" height="18" fill="#F23645"/><rect x="677" y="271" width="1" height="44" fill="#F23645"/><rect x="675" y="273" width="5" height="17" fill="#F23645"/><rect x="683" y="271" width="1" height="22" fill="#089981"/><rect x="681" y="279" width="5" height="11" fill="#089981"/><rect x="689" y="273" width="1" height="23" fill="#F23645"/><rect x="687" y="279" width="5" height="7" fill="#F23645"/><rect x="695" y="260" width="1" height="27" fill="#089981"/><rect x="693" y="266" width="5" height="20" fill="#089981"/><rect x="701" y="257" width="1" height="28" fill="#F23645"/><rect x="699" y="266" width="5" height="18" fill="#F23645"/><rect x="707" y="276" width="1" height="12" fill="#F23645"/><rect x="705" y="283" width="5" height="1" fill="#F23645"/><rect x="713" y="264" width="1" height="25" fill="#089981"/><rect x="711" y="269" width="5" height="15" fill="#089981"/><rect x="719" y="249" width="1" height="23" fill="#089981"/><rect x="717" y="268" width="5" height="1" fill="#089981"/><rect x="726" y="264" width="1" height="14" fill="#F23645"/><rect x="724" y="268" width="5" height="6" fill="#F23645"/><rect x="732" y="271" width="1" height="41" fill="#F23645"/><rect x="730" y="273" width="5" height="31" fill="#F23645"/><rect x="738" y="298" width="1" height="62" fill="#F23645"/><rect x="736" y="303" width="5" height="56" fill="#F23645"/><rect x="744" y="358" width="1" height="59" fill="#F23645"/><rect x="742" y="358" width="5" height="19" fill="#F23645"/><rect x="750" y="353" width="1" height="30" fill="#089981"/><rect x="748" y="356" width="5" height="21" fill="#089981"/><rect x="756" y="355" width="1" height="35" fill="#F23645"/><rect x="754" y="356" width="5" height="33" fill="#F23645"/><rect x="762" y="349" width="1" height="65" fill="#089981"/><rect x="760" y="368" width="5" height="21" fill="#089981"/><rect x="768" y="345" width="1" height="26" fill="#089981"/><rect x="766" y="356" width="5" height="13" fill="#089981"/><rect x="774" y="337" width="1" height="30" fill="#089981"/><rect x="772" y="348" width="5" height="8" fill="#089981"/><rect x="781" y="321" width="1" height="39" fill="#F23645"/><rect x="779" y="348" width="5" height="1" fill="#F23645"/><rect x="787" y="335" width="1" height="26" fill="#089981"/><rect x="785" y="342" width="5" height="8" fill="#089981"/><rect x="793" y="325" width="1" height="20" fill="#089981"/><rect x="791" y="331" width="5" height="11" fill="#089981"/><rect x="799" y="309" width="1" height="24" fill="#089981"/><rect x="797" y="315" width="5" height="17" fill="#089981"/><rect x="805" y="257" width="1" height="60" fill="#089981"/><rect x="803" y="258" width="5" height="57" fill="#089981"/><rect x="811" y="255" width="1" height="36" fill="#F23645"/><rect x="809" y="258" width="5" height="10" fill="#F23645"/><rect x="817" y="251" width="1" height="33" fill="#F23645"/><rect x="815" y="268" width="5" height="14" fill="#F23645"/><rect x="823" y="257" width="1" height="29" fill="#089981"/><rect x="821" y="272" width="5" height="10" fill="#089981"/><rect x="829" y="245" width="1" height="37" fill="#089981"/><rect x="827" y="254" width="5" height="19" fill="#089981"/><rect x="836" y="245" width="1" height="14" fill="#089981"/><rect x="834" y="250" width="5" height="5" fill="#089981"/><rect x="842" y="243" width="1" height="32" fill="#089981"/><rect x="840" y="245" width="5" height="5" fill="#089981"/><rect x="848" y="240" width="1" height="33" fill="#F23645"/><rect x="846" y="245" width="5" height="25" fill="#F23645"/><rect x="854" y="245" width="1" height="36" fill="#089981"/><rect x="852" y="259" width="5" height="11" fill="#089981"/><rect x="860" y="257" width="1" height="45" fill="#F23645"/><rect x="858" y="258" width="5" height="36" fill="#F23645"/><rect x="866" y="292" width="1" height="60" fill="#F23645"/><rect x="864" y="293" width="5" height="39" fill="#F23645"/><rect x="872" y="305" width="1" height="27" fill="#089981"/><rect x="870" y="308" width="5" height="24" fill="#089981"/><rect x="878" y="295" width="1" height="32" fill="#F23645"/><rect x="876" y="308" width="5" height="7" fill="#F23645"/><rect x="884" y="305" width="1" height="21" fill="#089981"/><rect x="882" y="309" width="5" height="6" fill="#089981"/><rect x="891" y="279" width="1" height="31" fill="#089981"/><rect x="889" y="296" width="5" height="14" fill="#089981"/><rect x="897" y="286" width="1" height="31" fill="#F23645"/><rect x="895" y="297" width="5" height="10" fill="#F23645"/><rect x="903" y="296" width="1" height="15" fill="#089981"/><rect x="901" y="296" width="5" height="11" fill="#089981"/></g>
<line x1="10" y1="296.5" x2="1157" y2="296.5" stroke="#089981" stroke-width="1" stroke-dasharray="1 2"/>
</g>
<g shape-rendering="crispEdges">
<rect x="9" y="26" width="1215" height="2" fill="#edeff2"/>
<rect x="9" y="554" width="1215" height="2" fill="#edeff2"/>
<rect x="9" y="26" width="2" height="530" fill="#edeff2"/>
<rect x="1222" y="26" width="2" height="530" fill="#edeff2"/>
<rect x="1157" y="28" width="1" height="526" fill="#e1e2e5"/>
<rect x="11" y="527" width="1211" height="1" fill="#e1e2e5"/>
</g>
</svg>
<svg width="1233" height="590" style="position:absolute;left:0;top:0;font-family:'Liberation Sans',sans-serif;will-change:transform"><text x="10.30" y="19" font-size="12.4" fill="#131722" font-weight="normal" textLength="399.50" lengthAdjust="spacingAndGlyphs" >Bitcoin_Analyzer published on TradingView.com, Jul 31, 2024 09:53 UTC+3</text><text x="17.80" y="46" font-size="12.4" fill="#131722" font-weight="normal" textLength="189.60" lengthAdjust="spacingAndGlyphs" >Ethereum / TetherUS, 1D, BINANCE</text><text x="214.90" y="46" font-size="12.4" fill="#131722" font-weight="normal" textLength="8.30" lengthAdjust="spacingAndGlyphs" >O</text><text x="223.00" y="46" font-size="12.4" fill="#089981" font-weight="normal" textLength="46.00" lengthAdjust="spacingAndGlyphs" >3,279.20</text><text x="276.20" y="46" font-size="12.4" fill="#131722" font-weight="normal" textLength="8.80" lengthAdjust="spacingAndGlyphs" >H</text><text x="284.70" y="46" font-size="12.4" fill="#089981" font-weight="normal" textLength="46.10" lengthAdjust="spacingAndGlyphs" >3,323.56</text><text x="338.30" y="46" font-size="12.4" fill="#131722" font-weight="normal" textLength="6.30" lengthAdjust="spacingAndGlyphs" >L</text><text x="344.10" y="46" font-size="12.4" fill="#089981" font-weight="normal" textLength="47.30" lengthAdjust="spacingAndGlyphs" >3,262.04</text><text x="397.80" y="46" font-size="12.4" fill="#131722" font-weight="normal" textLength="7.80" lengthAdjust="spacingAndGlyphs" >C</text><text x="405.10" y="46" font-size="12.4" fill="#089981" font-weight="normal" textLength="46.80" lengthAdjust="spacingAndGlyphs" >3,321.87</text><text x="459.20" y="46" font-size="12.4" fill="#089981" font-weight="normal" textLength="84.70" lengthAdjust="spacingAndGlyphs" >+42.66 (+1.30%)</text><text x="17.80" y="63" font-size="12.4" fill="#131722" font-weight="normal" textLength="49.00" lengthAdjust="spacingAndGlyphs" >Vol · ETH</text><text x="73.60" y="63" font-size="12.4" fill="#26a69a" font-weight="normal" textLength="39.60" lengthAdjust="spacingAndGlyphs" >47.77K</text><text x="17.80" y="80" font-size="12.4" fill="#131722" font-weight="normal" textLength="131.80" lengthAdjust="spacingAndGlyphs" >BB (20, SMA, close, 2, 0)</text><text x="157.10" y="80" font-size="12.4" fill="#FF6D00" font-weight="normal" textLength="47.30" lengthAdjust="spacingAndGlyphs" >3,349.94</text><text x="210.60" y="80" font-size="12.4" fill="#2962FF" font-weight="normal" textLength="47.40" lengthAdjust="spacingAndGlyphs" >3,592.20</text><text x="264.80" y="80" font-size="12.4" fill="#2962FF" font-weight="normal" textLength="47.20" lengthAdjust="spacingAndGlyphs" >3,107.69</text><text x="1165.70" y="92.9" font-size="12.6" fill="#131722" font-weight="normal" textLength="47.30" lengthAdjust="spacingAndGlyphs" stroke="#131722" stroke-width="0.12">4,200.00</text><text x="1165.70" y="140.7" font-size="12.6" fill="#131722" font-weight="normal" textLength="47.30" lengthAdjust="spacingAndGlyphs" stroke="#131722" stroke-width="0.12">4,000.00</text><text x="1165.70" y="187.7" font-size="12.6" fill="#131722" font-weight="normal" textLength="47.30" lengthAdjust="spacingAndGlyphs" stroke="#131722" stroke-width="0.12">3,800.00</text><text x="1165.70" y="234.7" font-size="12.6" fill="#131722" font-weight="normal" textLength="47.30" lengthAdjust="spacingAndGlyphs" stroke="#131722" stroke-width="0.12">3,600.00</text><text x="1165.70" y="281.7" font-size="12.6" fill="#131722" font-weight="normal" textLength="47.30" lengthAdjust="spacingAndGlyphs" stroke="#131722" stroke-width="0.12">3,400.00</text><text x="1165.70" y="328.7" font-size="12.6" fill="#131722" font-weight="normal" textLength="47.30" lengthAdjust="spacingAndGlyphs" stroke="#131722" stroke-width="0.12">3,200.00</text><text x="1165.70" y="375.7" font-size="12.6" fill="#131722" font-weight="normal" textLength="47.30" lengthAdjust="spacingAndGlyphs" stroke="#131722" stroke-width="0.12">3,000.00</text><text x="1165.70" y="422.7" font-size="12.6" fill="#131722" font-weight="normal" textLength="47.30" lengthAdjust="spacingAndGlyphs" stroke="#131722" stroke-width="0.12">2,800.00</text><text x="1165.70" y="469.7" font-size="12.6" fill="#131722" font-weight="normal" textLength="47.30" lengthAdjust="spacingAndGlyphs" stroke="#131722" stroke-width="0.12">2,600.00</text><text x="1165.70" y="516.7" font-size="12.6" fill="#131722" font-weight="normal" textLength="47.30" lengthAdjust="spacingAndGlyphs" stroke="#131722" stroke-width="0.12">2,400.00</text></svg>
<svg width="1233" height="590" style="position:absolute;left:0;top:0;font-family:'Liberation Sans',sans-serif;will-change:transform"><rect x="1157" y="225" width="61" height="17" rx="2" fill="#2962FF"/><text x="1165.70" y="236.9" font-size="12.6" fill="#fff" font-weight="normal" textLength="47.30" lengthAdjust="spacingAndGlyphs" stroke="#fff" stroke-width="0.35">3,592.20</text><rect x="1157" y="271" width="61" height="17" rx="2" fill="#FF6D00"/><text x="1165.70" y="282.9" font-size="12.6" fill="#fff" font-weight="normal" textLength="47.30" lengthAdjust="spacingAndGlyphs" stroke="#fff" stroke-width="0.35">3,349.94</text><rect x="1157" y="288" width="61" height="17" rx="2" fill="#089981"/><text x="1165.70" y="299.9" font-size="12.6" fill="#fff" font-weight="normal" textLength="47.30" lengthAdjust="spacingAndGlyphs" stroke="#fff" stroke-width="0.35">3,321.87</text><rect x="1157" y="339" width="61" height="17" rx="2" fill="#2962FF"/><text x="1165.70" y="350.9" font-size="12.6" fill="#fff" font-weight="normal" textLength="47.30" lengthAdjust="spacingAndGlyphs" stroke="#fff" stroke-width="0.35">3,107.69</text><rect x="1157" y="511" width="53" height="16" fill="#26a69a"/><text x="1165.50" y="524" font-size="12.6" fill="#fff" font-weight="normal" textLength="39.50" lengthAdjust="spacingAndGlyphs" stroke="#fff" stroke-width="0.35">47.77K</text><rect x="1097" y="288" width="59" height="17" rx="2" fill="#089981"/><text x="1101.80" y="300.7" font-size="12.4" fill="#fff" font-weight="normal" textLength="48.40" lengthAdjust="spacingAndGlyphs" stroke="#fff" stroke-width="0.35">ETHUSDT</text><rect x="1160.5" y="31.5" width="59" height="26" rx="4" fill="#fff" stroke="#e3e5ea" stroke-width="1.4"/><text x="1170.00" y="48.9" font-size="12.4" fill="#131722" font-weight="normal" textLength="28.10" lengthAdjust="spacingAndGlyphs" >USDT</text><text x="71.40" y="545.2" font-size="12.4" fill="#131722" font-weight="normal" textLength="13.00" lengthAdjust="spacingAndGlyphs" stroke="#131722" stroke-width="0.15">18</text><text x="153.40" y="545.2" font-size="12.4" fill="#131722" font-weight="normal" textLength="20.00" lengthAdjust="spacingAndGlyphs" stroke="#131722" stroke-width="0.4">Apr</text><text x="242.20" y="545.2" font-size="12.4" fill="#131722" font-weight="normal" textLength="13.00" lengthAdjust="spacingAndGlyphs" stroke="#131722" stroke-width="0.15">15</text><text x="335.60" y="545.2" font-size="12.4" fill="#131722" font-weight="normal" textLength="22.20" lengthAdjust="spacingAndGlyphs" stroke="#131722" stroke-width="0.4">May</text><text x="425.70" y="545.2" font-size="12.4" fill="#131722" font-weight="normal" textLength="12.80" lengthAdjust="spacingAndGlyphs" stroke="#131722" stroke-width="0.15">15</text><text x="525.00" y="545.2" font-size="12.4" fill="#131722" font-weight="normal" textLength="21.80" lengthAdjust="spacingAndGlyphs" stroke="#131722" stroke-width="0.4">Jun</text><text x="628.10" y="545.2" font-size="12.4" fill="#131722" font-weight="normal" textLength="12.50" lengthAdjust="spacingAndGlyphs" stroke="#131722" stroke-width="0.15">17</text><text x="710.20" y="545.2" font-size="12.4" fill="#131722" font-weight="normal" textLength="18.00" lengthAdjust="spacingAndGlyphs" stroke="#131722" stroke-width="0.4">Jul</text><text x="798.80" y="545.2" font-size="12.4" fill="#131722" font-weight="normal" textLength="12.70" lengthAdjust="spacingAndGlyphs" stroke="#131722" stroke-width="0.15">15</text><text x="898.50" y="545.2" font-size="12.4" fill="#131722" font-weight="normal" textLength="21.20" lengthAdjust="spacingAndGlyphs" stroke="#131722" stroke-width="0.4">Aug</text><text x="988.20" y="545.2" font-size="12.4" fill="#131722" font-weight="normal" textLength="12.90" lengthAdjust="spacingAndGlyphs" stroke="#131722" stroke-width="0.15">15</text><text x="1088.30" y="545.2" font-size="12.4" fill="#131722" font-weight="normal" textLength="20.20" lengthAdjust="spacingAndGlyphs" stroke="#131722" stroke-width="0.4">Sep</text><path d="M10.1 567.2 H17.8 V576.9 H13.5 V570.9 H10.1 Z" fill="#131722"/><circle cx="21.4" cy="569.2" r="1.55" fill="#131722"/><path d="M24.2 567.2 H29.7 L26.3 576.9 H21.2 Z" fill="#131722"/><text x="32.70" y="576.6" font-size="12.4" fill="#131722" font-weight="normal" textLength="70.70" lengthAdjust="spacingAndGlyphs" >TradingView</text></svg>
</body></html>
